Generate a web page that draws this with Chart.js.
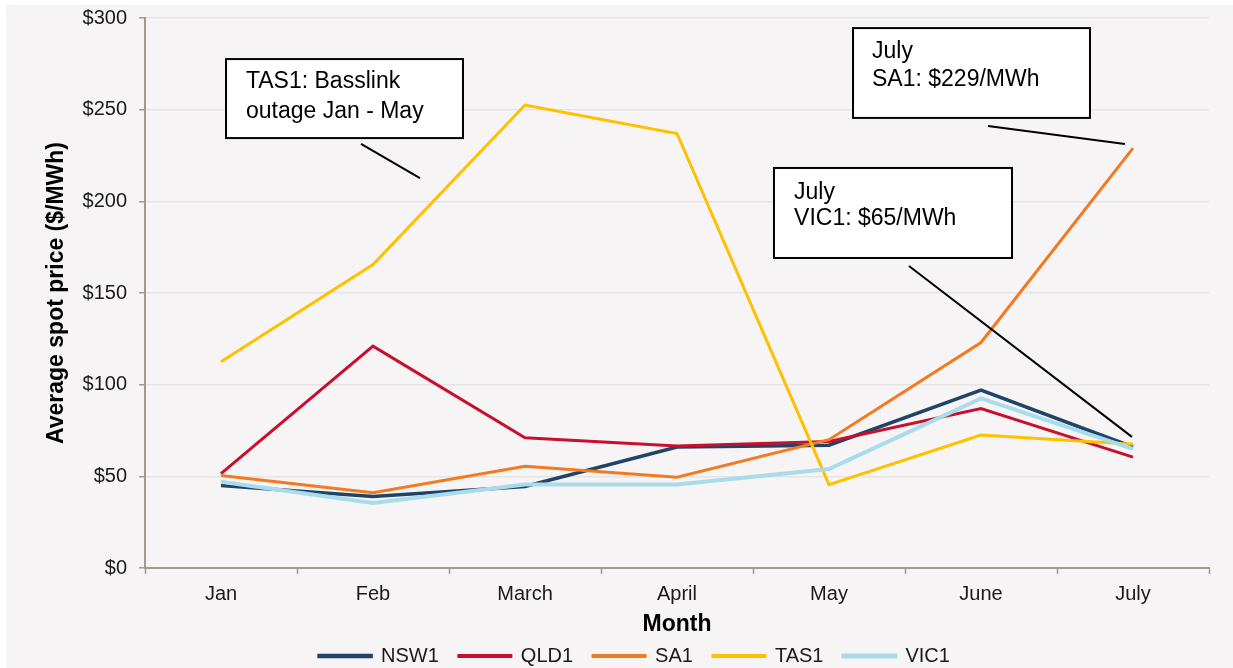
<!DOCTYPE html>
<html>
<head>
<meta charset="utf-8">
<script src="https://cdn.jsdelivr.net/npm/chart.js@4.4.1/dist/chart.umd.min.js"></script>
<style>
  html, body { margin: 0; padding: 0; background: #fff; }
  #wrap { position: absolute; left: 6px; top: 5px; width: 1227px; height: 663px; background: #f6f4f5; }
</style>
</head>
<body>
<div id="wrap"><canvas id="chartPrecios"></canvas></div>
<script>
// Datos
const meses = ['Jan', 'Feb', 'March', 'April', 'May', 'June', 'July'];
const nsw1 = [45, 39, 44.5, 66, 67, 97, 66];
const qld1 = [51.5, 121, 71, 66.5, 69, 87, 60.5];
const sa1 = [50.5, 41, 55.5, 49.5, 70, 123, 229];
const tas1 = [112.5, 165.5, 252.5, 237, 45.5, 72.5, 67.5];
const vic1 = [47, 35.5, 45.5, 45.5, 54, 92.5, 65];

// Notas (en unidades de los ejes: índice de mes, $/MWh)
const notas = [
  { caja: [0.033, 277.6, 1.592, 234.5], texto: ['TAS1: Basslink', 'outage Jan - May'], tx: 0.164, ty: [265.1, 248.7], linea: [0.921, 231.3, 1.309, 212.7] },
  { caja: [4.158, 294.5, 5.717, 245.5], texto: ['July', 'SA1: $229/MWh'], tx: 4.283, ty: [281.5, 266.2], linea: [5.046, 241.1, 5.947, 231.3] },
  { caja: [3.638, 218.2, 5.204, 169.1], texto: ['July', 'VIC1: $65/MWh'], tx: 3.770, ty: [204.5, 190.4], linea: [4.526, 164.7, 5.993, 71.5] }
];

Chart.defaults.font.family = '"Liberation Sans", Arial, sans-serif';
Chart.defaults.maintainAspectRatio = false;
Chart.defaults.responsive = true;
Chart.defaults.animation = false;

const colorEje = '#a39a8e';

const pluginNotas = {
  id: 'notas',
  afterDatasetsDraw(chart) {
    const { ctx, scales: { x, y } } = chart;
    ctx.save();
    ctx.strokeStyle = '#000';
    ctx.lineWidth = 2;
    ctx.font = '23px "Liberation Sans", Arial, sans-serif';
    ctx.textBaseline = 'middle';
    ctx.textAlign = 'left';
    notas.forEach(n => {
      // línea
      ctx.beginPath();
      ctx.moveTo(x.getPixelForValue(n.linea[0]), y.getPixelForValue(n.linea[1]));
      ctx.lineTo(x.getPixelForValue(n.linea[2]), y.getPixelForValue(n.linea[3]));
      ctx.stroke();
      // caja
      const x1 = x.getPixelForValue(n.caja[0]);
      const y1 = y.getPixelForValue(n.caja[1]);
      const x2 = x.getPixelForValue(n.caja[2]);
      const y2 = y.getPixelForValue(n.caja[3]);
      ctx.fillStyle = '#fff';
      ctx.fillRect(x1, y1, x2 - x1, y2 - y1);
      ctx.strokeRect(x1, y1, x2 - x1, y2 - y1);
      ctx.fillStyle = '#000';
      n.texto.forEach((t, i) => {
        ctx.fillText(t, x.getPixelForValue(n.tx), y.getPixelForValue(n.ty[i]));
      });
    });
    ctx.restore();
  }
};

// Alto fijo de la leyenda
const pluginLeyenda = {
  id: 'leyendaAlto',
  afterInit(chart) {
    const fitOriginal = chart.legend.fit;
    chart.legend.fit = function () {
      fitOriginal.call(this);
      this.height = 42;
    };
  }
};

function serie(label, data, color, ancho, orden) {
  return {
    label: label,
    data: data,
    borderColor: color,
    backgroundColor: color,
    borderWidth: ancho,
    pointRadius: 0,
    tension: 0,
    fill: false,
    order: orden
  };
}

const ctxPrecios = document.getElementById('chartPrecios');
new Chart(ctxPrecios, {
  type: 'line',
  data: {
    labels: meses,
    datasets: [
      serie('NSW1', nsw1, '#1f4468', 3.5, 4),
      serie('QLD1', qld1, '#c8102e', 3, 3),
      serie('SA1', sa1, '#f47920', 3, 2),
      serie('TAS1', tas1, '#ffc000', 3, 1),
      serie('VIC1', vic1, '#a8dcec', 4, 0)
    ]
  },
  options: {
    layout: { padding: { left: 54, top: 13, right: 24, bottom: 0 } },
    plugins: {
      legend: {
        position: 'bottom',
        labels: {
          sort: (a, b) => a.datasetIndex - b.datasetIndex,
          boxWidth: 52,
          boxHeight: 1,
          padding: 20,
          color: '#1a1a1a',
          font: { size: 20 }
        }
      },
      tooltip: { enabled: false }
    },
    scales: {
      x: {
        offset: true,
        grid: { drawOnChartArea: false, offset: true, tickLength: 6, tickColor: colorEje, tickWidth: 1.5 },
        border: { color: colorEje, width: 2 },
        ticks: { font: { size: 20 }, color: '#1a1a1a', padding: 8, maxRotation: 0 },
        title: { display: true, text: 'Month', color: '#000', font: { size: 23, weight: 'bold' }, padding: { top: 0, bottom: -12 } },
        afterFit(scale) { scale.height = 58; }
      },
      y: {
        min: 0,
        max: 300,
        ticks: { stepSize: 50, callback: value => '$' + value, font: { size: 20 }, color: '#1a1a1a', padding: 12 },
        grid: { color: '#e6e3e3', tickColor: colorEje, tickLength: 6, lineWidth: 1.5 },
        border: { color: colorEje, width: 2 },
        title: { display: true, text: 'Average spot price ($/MWh)', color: '#000', font: { size: 23, weight: 'bold' }, padding: { top: -17, bottom: 0 } },
        afterFit(scale) {
          scale.width = 85;
          scale.paddingTop = 0;
        }
      }
    }
  },
  plugins: [pluginNotas, pluginLeyenda]
});
</script>
</body>
</html>
